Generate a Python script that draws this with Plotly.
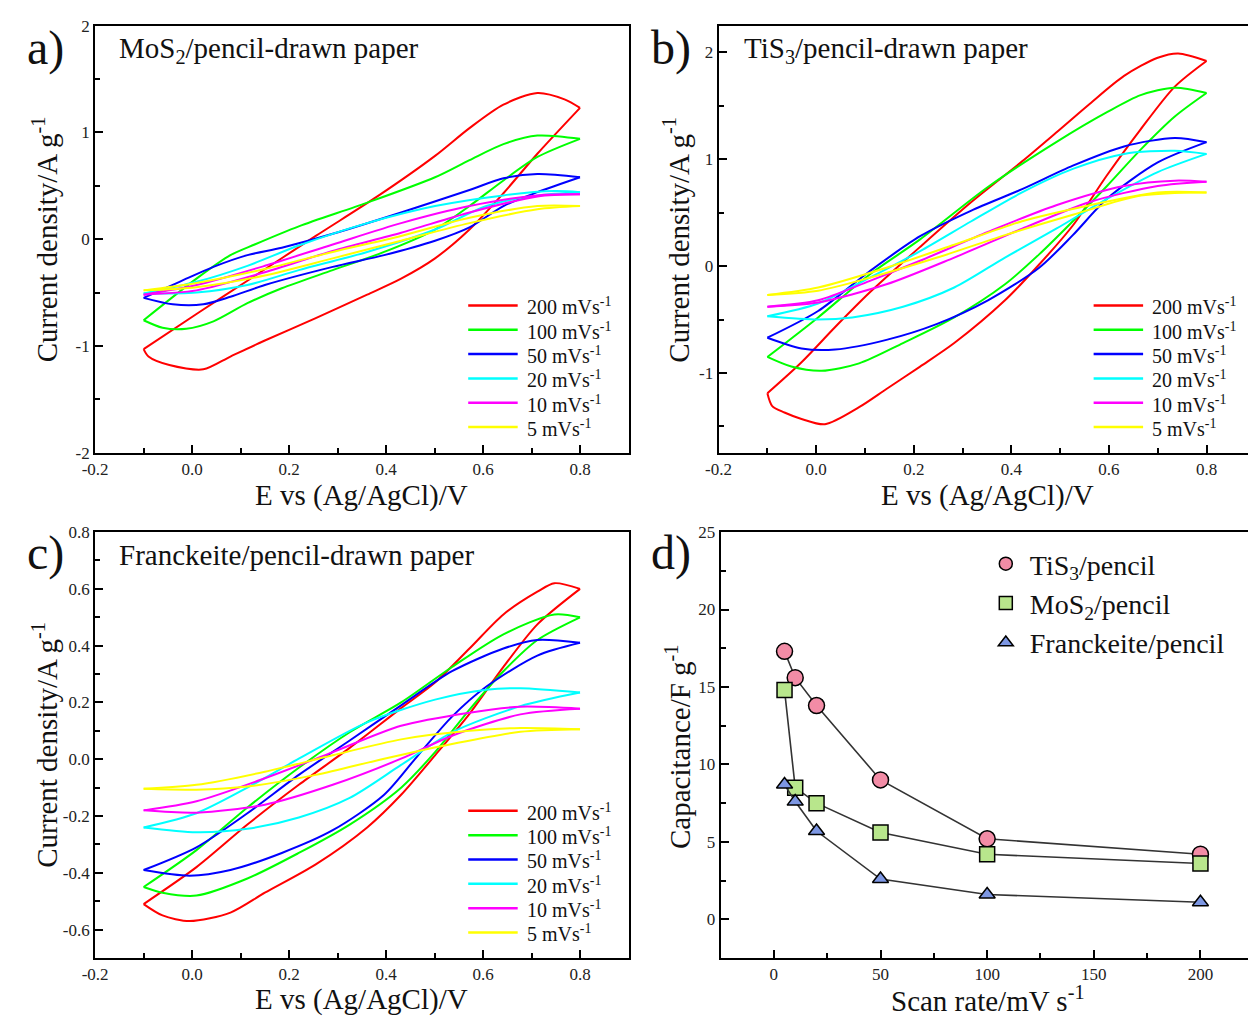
import plotly.graph_objects as go

FONT = "Liberation Serif"
rates = ["200", "100", "50", "20", "10", "5"]
colors = ["#FF0000", "#00FF00", "#0000FF", "#00FFFF", "#FF00FF", "#FFFF00"]

# ---------- Panel a: MoS2 (loop: forward -0.1 -> 0.8, then reverse) ----------
mos2_200_E = [-0.1, 0.016, 0.114, 0.255, 0.382, 0.501, 0.572, 0.642, 0.712, 0.768, 0.8, 0.712, 0.642, 0.572, 0.501, 0.431, 0.361, 0.255, 0.15, 0.079, 0.023, -0.047, -0.09, -0.1]
mos2_200_I = [-1.03, -0.68, -0.39, 0.03, 0.40, 0.78, 1.04, 1.26, 1.37, 1.31, 1.23, 0.80, 0.43, 0.09, -0.18, -0.37, -0.52, -0.74, -0.95, -1.10, -1.22, -1.18, -1.10, -1.03]
mos2_100_E = [-0.1, 0.009, 0.079, 0.129, 0.22, 0.36, 0.501, 0.572, 0.642, 0.712, 0.8, 0.712, 0.642, 0.572, 0.501, 0.396, 0.29, 0.185, 0.114, 0.044, -0.012, -0.061, -0.1]
mos2_100_I = [-0.76, -0.37, -0.15, -0.05, 0.12, 0.34, 0.58, 0.74, 0.89, 0.97, 0.94, 0.77, 0.55, 0.31, 0.09, -0.12, -0.29, -0.46, -0.60, -0.77, -0.84, -0.83, -0.76]
mos2_50_E = [-0.1, -0.026, 0.044, 0.114, 0.185, 0.29, 0.431, 0.572, 0.642, 0.712, 0.8, 0.712, 0.642, 0.572, 0.501, 0.396, 0.29, 0.15, 0.079, 0.023, -0.04, -0.1]
mos2_50_I = [-0.55, -0.40, -0.26, -0.15, -0.08, 0.05, 0.25, 0.46, 0.57, 0.61, 0.58, 0.44, 0.31, 0.11, -0.015, -0.15, -0.26, -0.43, -0.54, -0.61, -0.61, -0.55]
mos2_20_E = [-0.1, 0.009, 0.114, 0.22, 0.361, 0.501, 0.642, 0.747, 0.8, 0.712, 0.607, 0.501, 0.361, 0.22, 0.114, 0.009, -0.1]
mos2_20_I = [-0.51, -0.40, -0.25, -0.06, 0.15, 0.31, 0.41, 0.45, 0.44, 0.41, 0.31, 0.09, -0.12, -0.29, -0.43, -0.50, -0.51]
mos2_10_E = [-0.1, 0.009, 0.15, 0.29, 0.431, 0.572, 0.712, 0.8, 0.712, 0.572, 0.431, 0.29, 0.15, 0.009, -0.1]
mos2_10_I = [-0.52, -0.43, -0.25, -0.05, 0.15, 0.31, 0.41, 0.42, 0.40, 0.25, 0.06, -0.11, -0.31, -0.48, -0.52]
mos2_5_E = [-0.1, 0.009, 0.15, 0.29, 0.431, 0.572, 0.712, 0.8, 0.712, 0.572, 0.431, 0.29, 0.15, 0.009, -0.1]
mos2_5_I = [-0.48, -0.41, -0.28, -0.12, 0.03, 0.20, 0.31, 0.31, 0.28, 0.15, -0.015, -0.18, -0.34, -0.45, -0.48]

# ---------- Panel b: TiS3 ----------
tis3_200_E = [-0.1, -0.03, 0.039, 0.109, 0.213, 0.318, 0.422, 0.492, 0.561, 0.631, 0.70, 0.742, 0.8, 0.735, 0.665, 0.596, 0.526, 0.457, 0.387, 0.283, 0.213, 0.144, 0.088, 0.018, -0.03, -0.065, -0.09, -0.1]
tis3_200_I = [-1.19, -0.90, -0.57, -0.25, 0.18, 0.60, 0.98, 1.25, 1.52, 1.78, 1.95, 1.99, 1.92, 1.68, 1.28, 0.85, 0.38, 0.015, -0.32, -0.72, -0.94, -1.15, -1.32, -1.48, -1.43, -1.37, -1.31, -1.19]
tis3_100_E = [-0.1, 0.004, 0.109, 0.213, 0.352, 0.492, 0.596, 0.665, 0.735, 0.8, 0.735, 0.665, 0.596, 0.526, 0.457, 0.387, 0.283, 0.178, 0.088, 0.011, -0.051, -0.1]
tis3_100_I = [-0.85, -0.48, -0.08, 0.25, 0.74, 1.16, 1.44, 1.60, 1.67, 1.62, 1.40, 1.09, 0.75, 0.42, 0.11, -0.17, -0.48, -0.72, -0.91, -0.98, -0.94, -0.85]
tis3_50_E = [-0.1, 0.004, 0.109, 0.213, 0.318, 0.422, 0.526, 0.631, 0.735, 0.8, 0.70, 0.596, 0.526, 0.457, 0.352, 0.248, 0.144, 0.039, -0.03, -0.1]
tis3_50_I = [-0.67, -0.42, -0.05, 0.28, 0.52, 0.72, 0.94, 1.12, 1.20, 1.16, 0.97, 0.63, 0.29, -0.015, -0.32, -0.54, -0.69, -0.78, -0.77, -0.67]
tis3_20_E = [-0.1, 0.004, 0.109, 0.213, 0.318, 0.422, 0.526, 0.631, 0.735, 0.8, 0.70, 0.596, 0.492, 0.387, 0.283, 0.178, 0.074, 0.004, -0.1]
tis3_20_I = [-0.47, -0.35, -0.11, 0.14, 0.42, 0.69, 0.91, 1.05, 1.08, 1.05, 0.88, 0.63, 0.35, 0.08, -0.20, -0.38, -0.48, -0.50, -0.47]
tis3_10_E = [-0.1, 0.004, 0.109, 0.213, 0.352, 0.492, 0.631, 0.735, 0.8, 0.70, 0.561, 0.422, 0.283, 0.144, 0.004, -0.1]
tis3_10_I = [-0.38, -0.32, -0.14, 0.05, 0.32, 0.57, 0.75, 0.80, 0.79, 0.75, 0.60, 0.35, 0.08, -0.17, -0.34, -0.38]
tis3_5_E = [-0.1, 0.004, 0.144, 0.283, 0.422, 0.561, 0.70, 0.8, 0.665, 0.526, 0.387, 0.248, 0.109, 0.004, -0.1]
tis3_5_I = [-0.27, -0.20, -0.015, 0.20, 0.42, 0.57, 0.69, 0.69, 0.66, 0.48, 0.29, 0.08, -0.11, -0.23, -0.27]

# ---------- Panel c: Franckeite ----------
fr_200_E = [-0.1, 0.009, 0.114, 0.22, 0.325, 0.431, 0.501, 0.572, 0.642, 0.712, 0.747, 0.8, 0.712, 0.642, 0.572, 0.501, 0.431, 0.361, 0.255, 0.15, 0.079, -0.005, -0.061, -0.1]
fr_200_I = [-0.51, -0.38, -0.23, -0.09, 0.04, 0.18, 0.27, 0.39, 0.51, 0.59, 0.62, 0.60, 0.475, 0.325, 0.16, 0.014, -0.125, -0.24, -0.37, -0.47, -0.54, -0.57, -0.55, -0.51]
fr_100_E = [-0.1, 0.009, 0.114, 0.22, 0.325, 0.431, 0.536, 0.642, 0.747, 0.8, 0.712, 0.642, 0.572, 0.501, 0.431, 0.325, 0.22, 0.114, 0.009, -0.061, -0.1]
fr_100_I = [-0.45, -0.32, -0.17, -0.03, 0.095, 0.20, 0.325, 0.44, 0.51, 0.50, 0.42, 0.31, 0.175, 0.025, -0.10, -0.23, -0.33, -0.42, -0.48, -0.47, -0.45]
fr_50_E = [-0.1, 0.009, 0.114, 0.22, 0.325, 0.431, 0.536, 0.642, 0.712, 0.8, 0.712, 0.607, 0.536, 0.466, 0.396, 0.29, 0.185, 0.079, -0.005, -0.1]
fr_50_I = [-0.39, -0.31, -0.19, -0.055, 0.066, 0.19, 0.31, 0.39, 0.42, 0.41, 0.365, 0.256, 0.15, 0.014, -0.125, -0.25, -0.33, -0.39, -0.41, -0.39]
fr_20_E = [-0.1, 0.009, 0.114, 0.22, 0.361, 0.501, 0.607, 0.677, 0.8, 0.677, 0.536, 0.431, 0.325, 0.22, 0.114, 0.009, -0.1]
fr_20_I = [-0.24, -0.19, -0.10, 0.002, 0.13, 0.21, 0.245, 0.25, 0.235, 0.187, 0.095, -0.02, -0.136, -0.205, -0.245, -0.257, -0.24]
fr_10_E = [-0.1, 0.009, 0.15, 0.29, 0.431, 0.572, 0.677, 0.8, 0.677, 0.536, 0.431, 0.29, 0.15, 0.009, -0.1]
fr_10_I = [-0.18, -0.148, -0.067, 0.025, 0.118, 0.164, 0.185, 0.178, 0.158, 0.083, 0.002, -0.09, -0.16, -0.188, -0.18]
fr_5_E = [-0.1, 0.009, 0.15, 0.29, 0.431, 0.572, 0.677, 0.8, 0.677, 0.536, 0.396, 0.255, 0.114, 0.009, -0.1]
fr_5_I = [-0.104, -0.09, -0.044, 0.014, 0.07, 0.10, 0.11, 0.106, 0.097, 0.054, 0.002, -0.055, -0.096, -0.107, -0.104]

# ---------- Panel d: capacitance vs scan rate ----------
scan_rate = [5, 10, 20, 50, 100, 200]
cap_tis3 = [17.3, 15.6, 13.8, 9.0, 5.2, 4.2]
cap_mos2 = [14.8, 8.5, 7.5, 5.6, 4.2, 3.6]
cap_fr = [8.7, 7.6, 5.7, 2.6, 1.6, 1.1]

# ---------- tick labels ----------
e_ticks = [-0.2, 0.0, 0.2, 0.4, 0.6, 0.8]
e_ticktext = ["-0.2", "0.0", "0.2", "0.4", "0.6", "0.8"]
ya_ticks = [-2, -1, 0, 1, 2]
ya_ticktext = ["-2", "-1", "0", "1", "2"]
yb_ticks = [-1, 0, 1, 2]
yb_ticktext = ["-1", "0", "1", "2"]
yc_ticks = [-0.6, -0.4, -0.2, 0.0, 0.2, 0.4, 0.6, 0.8]
yc_ticktext = ["-0.6", "-0.4", "-0.2", "0.0", "0.2", "0.4", "0.6", "0.8"]
xd_ticks = [0, 50, 100, 150, 200]
yd_ticks = [0, 5, 10, 15, 20, 25]

panels = [
    ("x", "y", [(mos2_200_E, mos2_200_I), (mos2_100_E, mos2_100_I), (mos2_50_E, mos2_50_I),
                (mos2_20_E, mos2_20_I), (mos2_10_E, mos2_10_I), (mos2_5_E, mos2_5_I)]),
    ("x2", "y2", [(tis3_200_E, tis3_200_I), (tis3_100_E, tis3_100_I), (tis3_50_E, tis3_50_I),
                  (tis3_20_E, tis3_20_I), (tis3_10_E, tis3_10_I), (tis3_5_E, tis3_5_I)]),
    ("x3", "y3", [(fr_200_E, fr_200_I), (fr_100_E, fr_100_I), (fr_50_E, fr_50_I),
                  (fr_20_E, fr_20_I), (fr_10_E, fr_10_I), (fr_5_E, fr_5_I)]),
]

fig = go.Figure()
for xa, ya, curves in panels:
    for (E, I), r, c in zip(curves, rates, colors):
        k = E.index(max(E))
        for part in (slice(0, k + 1), slice(k, None)):
            fig.add_trace(go.Scatter(
                x=E[part], y=I[part], mode="lines", xaxis=xa, yaxis=ya,
                line=dict(color=c, width=2, shape="spline", smoothing=0.8),
                name=f"{r} mVs<sup>-1</sup>", showlegend=False, hoverinfo="skip"))

for name, ys, sym, col, sz in (("TiS<sub>3</sub>/pencil", cap_tis3, "circle", "#F28CA6", 16),
                               ("MoS<sub>2</sub>/pencil", cap_mos2, "square", "#B8E68C", 15),
                               ("Franckeite/pencil", cap_fr, "triangle-up", "#7D97E3", 14)):
    fig.add_trace(go.Scatter(
        x=scan_rate, y=ys, mode="lines+markers", xaxis="x4", yaxis="y4",
        line=dict(color="#333333", width=1.6),
        marker=dict(symbol=sym, size=sz, color=col, line=dict(color="black", width=1.5)),
        showlegend=False, hoverinfo="skip"))
    fig.add_trace(go.Scatter(
        x=[None], y=[None], mode="markers", xaxis="x4", yaxis="y4",
        marker=dict(symbol=sym, size=13, color=col, line=dict(color="black", width=1.5)),
        name=name, legend="legend", hoverinfo="skip"))

W, H = 1248, 1022
def X(p): return p / W
def Y(p): return 1 - p / H
def dx(a, b): return [X(a), min(1.0, X(b))]
def dy(top, bot): return [Y(bot), Y(top)]

tickfont = dict(family=FONT, size=17, color="#222222")
def axis(domain, rng, tv, tt, minor_dtick, mirror=True, anchor=None):
    return dict(domain=domain, range=rng, tickmode="array", tickvals=tv, ticktext=tt,
                showline=True, linewidth=2, linecolor="black", mirror=mirror,
                ticks="inside", ticklen=8, tickwidth=1.5, tickcolor="black",
                showgrid=False, zeroline=False, tickfont=tickfont,
                minor=dict(ticks="inside", ticklen=5, tickwidth=1.5, tickcolor="black",
                           dtick=minor_dtick, tick0=0, showgrid=False),
                anchor=anchor)

fig.update_layout(
    width=W, height=H, margin=dict(l=0, r=0, t=0, b=0),
    paper_bgcolor="white", plot_bgcolor="white",
    font=dict(family=FONT, color="#111111"),
    xaxis=axis(dx(83, 622), [-0.2, 0.9], e_ticks, e_ticktext, 0.1, anchor="y"),
    yaxis=axis(dy(17, 452), [-2, 2], ya_ticks, ya_ticktext, 0.5, anchor="x"),
    xaxis2=axis(dx(713, 1248), [-0.2, 0.885], e_ticks, e_ticktext, 0.1, anchor="y2"),
    yaxis2=axis(dy(17, 452), [-1.745, 2.25], yb_ticks, yb_ticktext, 0.5, mirror=False, anchor="x2"),
    xaxis3=axis(dx(83, 622), [-0.2, 0.9], e_ticks, e_ticktext, 0.1, anchor="y3"),
    yaxis3=axis(dy(533, 967), [-0.7, 0.8], yc_ticks, yc_ticktext, 0.1, anchor="x3"),
    xaxis4=axis(dx(715, 1248), [-25, 222.3], xd_ticks, [str(v) for v in xd_ticks], 25, anchor="y4"),
    yaxis4=axis(dy(533, 967), [-2.5, 25], yd_ticks, [str(v) for v in yd_ticks], 2.5, mirror=False, anchor="x4"),
    legend=dict(x=X(979), y=Y(540), xanchor="left", yanchor="top", bgcolor="rgba(0,0,0,0)",
                font=dict(family=FONT, size=28, color="#111111"), itemwidth=38,
                tracegroupgap=0, traceorder="normal"),
)

ann = []
shapes = []
def text(x, y, s, size, angle=0, xanchor="center"):
    ann.append(dict(x=X(x), y=Y(y), xref="paper", yref="paper", text=s, showarrow=False,
                    textangle=angle, xanchor=xanchor, yanchor="middle",
                    font=dict(family=FONT, size=size, color="#111111")))

# legends of the CV panels (line sample + label)
for lx, ly in ((460, 302), (1092, 302), (460, 817)):
    for i, (r, c) in enumerate(zip(rates, colors)):
        yy = ly + 24.8 * i
        shapes.append(dict(type="line", xref="paper", yref="paper", x0=X(lx), x1=X(lx + 50),
                           y0=Y(yy), y1=Y(yy), line=dict(color=c, width=2.5)))
        text(lx + 57, yy + 1, f"{r} mVs<sup>-1</sup>", 20, xanchor="left")

for lbl, x, y in (("a)", 12, 40), ("b)", 643, 40), ("c)", 12, 554), ("d)", 643, 554)):
    text(x, y, lbl, 48, xanchor="left")
text(105, 42, "MoS<sub>2</sub>/pencil-drawn paper", 29, xanchor="left")
text(737, 42, "TiS<sub>3</sub>/pencil-drawn paper", 29, xanchor="left")
text(105, 556, "Franckeite/pencil-drawn paper", 29, xanchor="left")
yt = "Current density/A g<sup>-1</sup>"
text(32, 235, yt, 29, angle=-90)
text(670, 235, yt, 29, angle=-90)
text(32, 750, yt, 29, angle=-90)
text(672, 752, "Capacitance/F g<sup>-1</sup>", 29, angle=-90)
text(352, 496, "E vs (Ag/AgCl)/V", 29)
text(985, 496, "E vs (Ag/AgCl)/V", 29)
text(352, 1009, "E vs (Ag/AgCl)/V", 29)
text(985, 1009, "Scan rate/mV s<sup>-1</sup>", 29)
fig.update_layout(annotations=ann, shapes=shapes)

fig.write_html("out.html")
